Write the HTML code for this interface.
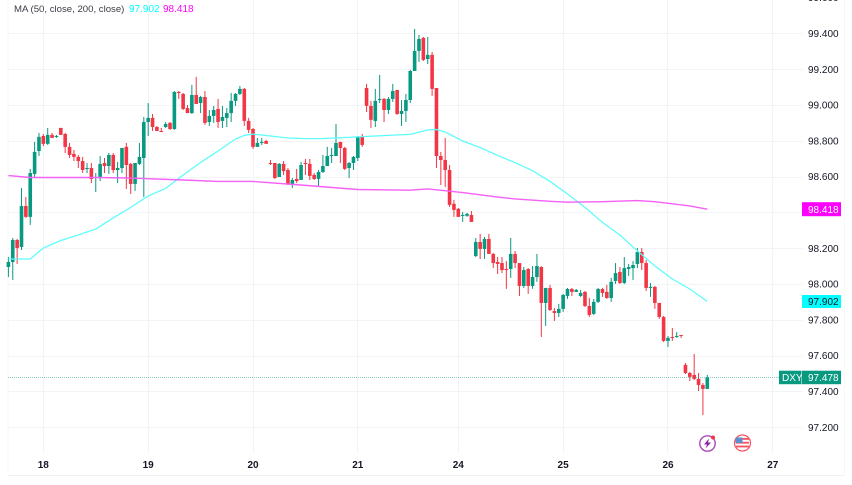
<!DOCTYPE html>
<html>
<head>
<meta charset="utf-8">
<title>DXY chart</title>
<style>
html,body{margin:0;padding:0;background:#fff;width:852px;height:485px;overflow:hidden}
svg{display:block;filter:blur(0.3px)}
text{font-family:"Liberation Sans",sans-serif}
</style>
</head>
<body>
<svg id="chart" width="852" height="485" viewBox="0 0 852 485" xmlns="http://www.w3.org/2000/svg">
  <rect x="0" y="0" width="852" height="485" fill="#ffffff"/>
  <line x1="8" y1="0" x2="8" y2="475" stroke="#f6f7f9" stroke-width="1"/>
  <line x1="844.5" y1="0" x2="844.5" y2="475" stroke="#f6f7f9" stroke-width="1"/>
  <line x1="8" y1="475.5" x2="844" y2="475.5" stroke="#f0f1f3" stroke-width="1"/>
  <g id="grid"></g>
  <g id="candles"></g>
  <path id="ma50" fill="none" stroke="#5cfcfc" stroke-width="1.25" stroke-linejoin="round"/>
  <path id="ma200" fill="none" stroke="#f560f5" stroke-width="1.4" stroke-linejoin="round"/>
  <line id="lastLine" x1="8" x2="779" stroke="#089981" stroke-opacity="0.5" stroke-width="1" stroke-dasharray="1 1"/>
  <g id="yAxis"></g>
  <g id="xAxis"></g>

  <g>
    <rect id="ma200Box" x="802" width="39" height="14" fill="#ff00ff"/>
    <text id="ma200Text" x="808" font-size="10" fill="#ffffff"></text>
  </g>
  <g>
    <rect id="ma50Box" x="802" width="39" height="13" fill="#00ffff"/>
    <text id="ma50Text" x="808" font-size="10" fill="#131722"></text>
  </g>
  <g>
    <rect id="symBox" x="779" width="22.5" height="13.5" fill="#089981"/>
    <text id="symText" x="782" font-size="10" fill="#ffffff">DXY</text>
    <rect id="lastBox" x="802" width="39" height="13.5" fill="#089981"/>
    <text id="lastText" x="808" font-size="10" fill="#ffffff"></text>
  </g>

  <g>
    <text x="14" y="12" font-size="9.6" fill="#3a3d45">MA (50, close, 200, close)</text>
    <text id="legend50" x="129" y="12" font-size="10" fill="#00ffff"></text>
    <text id="legend200" x="163" y="12" font-size="10" fill="#ff00ff"></text>
  </g>

  <g>
    <circle cx="707.5" cy="443.5" r="7.7" fill="#ffffff" stroke="#ab47bc" stroke-width="1.4"/>
    <polygon points="709,438.5 704,444.5 707,444.5 705.5,448.5 711,442.5 708,442.5" fill="#8e24aa"/>
    <circle cx="713" cy="437.5" r="2" fill="#f23645"/>
  </g>
  <g>
    <circle cx="742.5" cy="443" r="8" fill="#ffffff" stroke="#f7525f" stroke-width="1.2"/>
    <rect x="736" y="438" width="13" height="1.8" fill="#f7525f"/>
    <rect x="736" y="441.8" width="13" height="1.8" fill="#f7525f"/>
    <rect x="736" y="445.6" width="13" height="1.8" fill="#f7525f"/>
    <rect x="735.5" y="437.5" width="7" height="5.5" fill="#5b8fd0"/>
  </g>
</svg>
<script>
var opens = [
98.095,98.123,98.246,98.207,98.436,98.375,98.615,98.743,98.827,98.783,
98.833,98.822,98.872,98.838,98.766,98.727,98.710,98.687,98.643,98.648,
98.592,98.598,98.676,98.659,98.721,98.637,98.648,98.766,98.671,98.559,
98.671,98.704,98.905,98.928,98.877,98.855,98.877,98.900,98.866,99.073,
99.062,98.983,98.955,99.056,99.011,99.045,98.905,98.939,98.978,98.911,
98.928,98.955,99.023,99.062,99.090,98.911,98.866,98.766,98.788,98.799,
98.676,98.676,98.598,98.671,98.637,98.559,98.587,98.581,98.676,98.671,
98.609,98.587,98.626,98.659,98.715,98.715,98.794,98.760,98.648,98.676,
98.704,98.822,99.095,98.995,98.911,99.028,99.034,98.972,99.034,99.084,
98.950,98.967,99.028,99.190,99.302,99.375,99.257,99.280,99.095,98.715,
98.693,98.637,98.448,98.420,98.381,98.381,98.386,98.156,98.235,98.196,
98.252,98.168,98.123,98.117,98.084,98.084,98.168,98.117,97.989,98.084,
97.989,98.039,98.095,97.894,97.978,97.849,97.838,97.861,97.933,97.972,
97.956,97.933,97.956,97.877,97.833,97.900,97.972,97.956,97.922,98.017,
98.067,98.006,98.084,98.089,98.112,98.179,98.117,97.978,97.984,97.894,
97.816,97.682,97.704,97.704,97.715,97.548,97.503,97.492,97.470,97.436,97.414];
var highs = [
98.151,98.257,98.252,98.536,98.486,98.643,98.794,98.844,98.838,98.872,
98.844,98.833,98.872,98.844,98.788,98.749,98.721,98.710,98.676,98.676,
98.620,98.715,98.704,98.732,98.732,98.682,98.760,98.788,98.676,98.676,
98.788,98.933,99.011,98.950,98.883,98.872,98.905,98.905,99.078,99.078,
99.067,99.000,99.112,99.157,99.051,99.078,98.972,98.995,99.034,98.995,
98.983,99.067,99.067,99.106,99.095,98.928,98.872,98.816,98.816,98.805,
98.693,98.676,98.676,98.687,98.648,98.592,98.643,98.682,98.699,98.699,
98.620,98.637,98.721,98.766,98.760,98.894,98.794,98.766,98.682,98.715,
98.827,98.838,99.118,99.023,99.090,99.168,99.039,99.045,99.118,99.084,
99.028,99.062,99.196,99.425,99.391,99.380,99.380,99.296,99.095,98.738,
98.816,98.665,98.470,98.425,98.403,98.397,98.408,98.257,98.280,98.263,
98.280,98.173,98.151,98.151,98.128,98.257,98.184,98.117,98.095,98.089,
98.100,98.168,98.100,97.978,97.995,97.866,97.889,97.945,97.978,97.978,
97.972,97.967,97.961,97.922,97.917,97.978,97.978,97.995,98.034,98.117,
98.095,98.151,98.112,98.128,98.201,98.201,98.134,98.006,97.989,97.894,
97.821,97.710,97.754,97.732,97.715,97.559,97.509,97.609,97.503,97.447,97.492];
var lows = [
98.039,98.023,98.112,98.190,98.369,98.330,98.598,98.715,98.771,98.777,
98.816,98.816,98.833,98.732,98.704,98.687,98.648,98.620,98.620,98.564,
98.514,98.575,98.620,98.615,98.620,98.564,98.620,98.531,98.503,98.520,
98.665,98.486,98.827,98.855,98.855,98.849,98.872,98.861,98.861,99.034,
98.972,98.955,98.950,99.006,98.955,98.889,98.883,98.900,98.872,98.872,
98.877,98.905,98.995,99.056,98.883,98.844,98.755,98.766,98.777,98.783,
98.665,98.587,98.598,98.609,98.553,98.536,98.564,98.581,98.609,98.581,
98.581,98.542,98.620,98.659,98.676,98.715,98.676,98.637,98.592,98.637,
98.687,98.766,98.961,98.872,98.877,99.011,98.905,98.950,99.017,98.945,
98.883,98.905,99.011,99.190,99.241,99.246,99.229,99.051,98.648,98.553,
98.542,98.430,98.375,98.375,98.347,98.375,98.347,98.151,98.140,98.140,
98.168,98.089,98.056,98.061,97.973,98.034,98.089,97.933,97.978,97.945,
97.973,98.012,97.704,97.766,97.849,97.794,97.816,97.844,97.917,97.933,
97.956,97.928,97.872,97.816,97.827,97.894,97.928,97.917,97.900,98.000,
98.000,98.000,98.045,98.023,98.089,98.078,97.961,97.928,97.861,97.805,
97.676,97.648,97.682,97.699,97.699,97.497,97.458,97.464,97.402,97.268,97.414];
var closes = [
98.123,98.246,98.201,98.436,98.375,98.620,98.738,98.822,98.783,98.833,
98.816,98.827,98.833,98.766,98.721,98.710,98.687,98.637,98.648,98.587,
98.598,98.671,98.659,98.721,98.637,98.648,98.760,98.665,98.559,98.676,
98.710,98.905,98.928,98.877,98.855,98.849,98.894,98.866,99.073,99.067,
98.978,98.955,99.056,99.006,99.045,98.900,98.939,98.972,98.905,98.933,
98.955,99.023,99.062,99.090,98.911,98.861,98.766,98.788,98.794,98.783,
98.671,98.592,98.671,98.631,98.559,98.581,98.575,98.665,98.671,98.604,
98.587,98.626,98.659,98.715,98.721,98.788,98.760,98.643,98.676,98.710,
98.822,98.777,98.995,98.917,99.023,99.034,98.972,99.034,99.078,98.950,
98.967,99.028,99.190,99.302,99.369,99.252,99.280,99.090,98.715,98.693,
98.637,98.442,98.414,98.375,98.386,98.392,98.347,98.235,98.196,98.252,
98.168,98.117,98.112,98.078,98.078,98.168,98.117,97.989,98.078,97.989,
98.039,98.100,97.894,97.978,97.855,97.838,97.861,97.939,97.972,97.956,
97.967,97.950,97.877,97.827,97.900,97.972,97.950,97.922,98.012,98.061,
98.006,98.089,98.095,98.106,98.179,98.117,97.978,97.984,97.894,97.816,
97.682,97.699,97.699,97.710,97.710,97.503,97.481,97.470,97.436,97.414,97.478];
var ma50Bars = [0,5,8,12,16,20,24,28,32,36,40,44,48,52,54,56,60,64,68,72,76,80,84,88,92,96,98,100,104,108,112,116,120,124,128,132,136,140,144,148,152,156,160];
var ma50Values = [98.140,98.140,98.201,98.243,98.274,98.307,98.369,98.428,98.492,98.534,98.609,98.679,98.743,98.810,98.830,98.837,98.827,98.816,98.812,98.813,98.817,98.822,98.827,98.832,98.836,98.861,98.863,98.849,98.799,98.762,98.718,98.678,98.633,98.573,98.503,98.428,98.344,98.273,98.185,98.101,98.028,97.972,97.902];
var ma200Bars = [0,5,12,20,28,40,48,56,68,80,92,96,100,104,112,116,124,128,136,144,148,152,156,160];
var ma200Values = [98.606,98.595,98.595,98.595,98.592,98.581,98.573,98.573,98.551,98.528,98.524,98.531,98.521,98.511,98.486,98.475,98.462,98.457,98.460,98.466,98.460,98.448,98.436,98.418];
var priceTicks = [99.6,99.4,99.2,99.0,98.8,98.6,98.2,98.0,97.8,97.6,97.4,97.2];
var gridPrices = [99.4,99.2,99.0,98.8,98.6,98.4,98.2,98.0,97.8,97.6,97.4,97.2];
var dayLabels = ["18","19","20","21","24","25","26","27"];
var dayBars = [8,32,56,80,103,127,151,175];
var lastPrice = 97.478;
var ma50Last = 97.902;
var ma200Last = 98.418;

var NS = "http://www.w3.org/2000/svg";
function xScale(i){ return 8.4 + 4.368 * i; }
function yScale(p){ return 33.4 + (99.4 - p) * 179; }
function make(tag, parent){
  var el = document.createElementNS(NS, tag);
  parent.appendChild(el);
  return el;
}
function setAttrs(el, attrs){
  for (var k in attrs) el.setAttribute(k, attrs[k]);
}
function linePath(bars, vals){
  var d = "";
  for (var i = 0; i < bars.length; i++){
    d += (i ? "L" : "M") + xScale(bars[i]).toFixed(2) + " " + yScale(vals[i]).toFixed(2);
  }
  return d;
}

var gridG = document.getElementById("grid");
gridPrices.forEach(function(p){
  var l = make("line", gridG);
  
  
  var y = Math.round(yScale(p)) + 0.5;
  setAttrs(l, {x1: 8, x2: 803, y1: y, y2: y, stroke: "#f3f4f6", "stroke-width": 1});
});
dayBars.forEach(function(b){
  var l = make("line", gridG);
  
  
  var x = Math.round(xScale(b) - 0.5) + 0.5;
  setAttrs(l, {x1: x, x2: x, y1: 0, y2: 453, stroke: "#f3f4f6", "stroke-width": 1});
});

var candleG = document.getElementById("candles");
opens.forEach(function(o, i){
  var c = closes[i], up = c >= o;
  var color = up ? "#089981" : "#f23645";
  var x = xScale(i);
  var g = make("g", candleG);
  
  
  var wick = make("rect", g);
  
  
  setAttrs(wick, {x: (x - 0.5).toFixed(2), width: 1, y: yScale(highs[i]).toFixed(2), height: (yScale(lows[i]) - yScale(highs[i])).toFixed(2), fill: color});
  var body = make("rect", g);
  
  
  var top = yScale(Math.max(o, c)), h = Math.max(1, yScale(Math.min(o, c)) - top);
  setAttrs(body, {x: (x - 1.8).toFixed(2), width: 3.6, y: top.toFixed(2), height: h.toFixed(2), fill: color});
});

document.getElementById("ma50").setAttribute("d", linePath(ma50Bars, ma50Values));
document.getElementById("ma200").setAttribute("d", linePath(ma200Bars, ma200Values));
var ll = document.getElementById("lastLine");
ll.setAttribute("y1", Math.round(yScale(lastPrice)) + 0.5);
ll.setAttribute("y2", Math.round(yScale(lastPrice)) + 0.5);

var yG = document.getElementById("yAxis");
priceTicks.forEach(function(p){
  var t = make("text", yG);
  
  
  setAttrs(t, {x: 808, y: (yScale(p) + 3.6).toFixed(1), "font-size": 10, fill: "#131722"});
  t.textContent = p.toFixed(3);
});

var xG = document.getElementById("xAxis");
dayLabels.forEach(function(d, i){
  var t = make("text", xG);
  
  
  setAttrs(t, {x: xScale(dayBars[i]).toFixed(1), y: 468, "font-size": 10, "font-weight": "bold", "text-anchor": "middle", fill: "#131722"});
  t.textContent = d;
});

function placeLabel(boxId, textId, price, h){
  var y = yScale(price);
  var box = document.getElementById(boxId);
  box.setAttribute("y", (y - h / 2).toFixed(1));
  var t = document.getElementById(textId);
  t.setAttribute("y", (y + 3.6).toFixed(1));
  if (textId !== "symText") t.textContent = price.toFixed(3);
}
placeLabel("ma200Box", "ma200Text", ma200Last, 14);
placeLabel("ma50Box", "ma50Text", ma50Last, 13);
placeLabel("symBox", "symText", lastPrice, 13.5);
placeLabel("lastBox", "lastText", lastPrice, 13.5);
document.getElementById("legend50").textContent = ma50Last.toFixed(3);
document.getElementById("legend200").textContent = ma200Last.toFixed(3);
</script>
</body>
</html>
